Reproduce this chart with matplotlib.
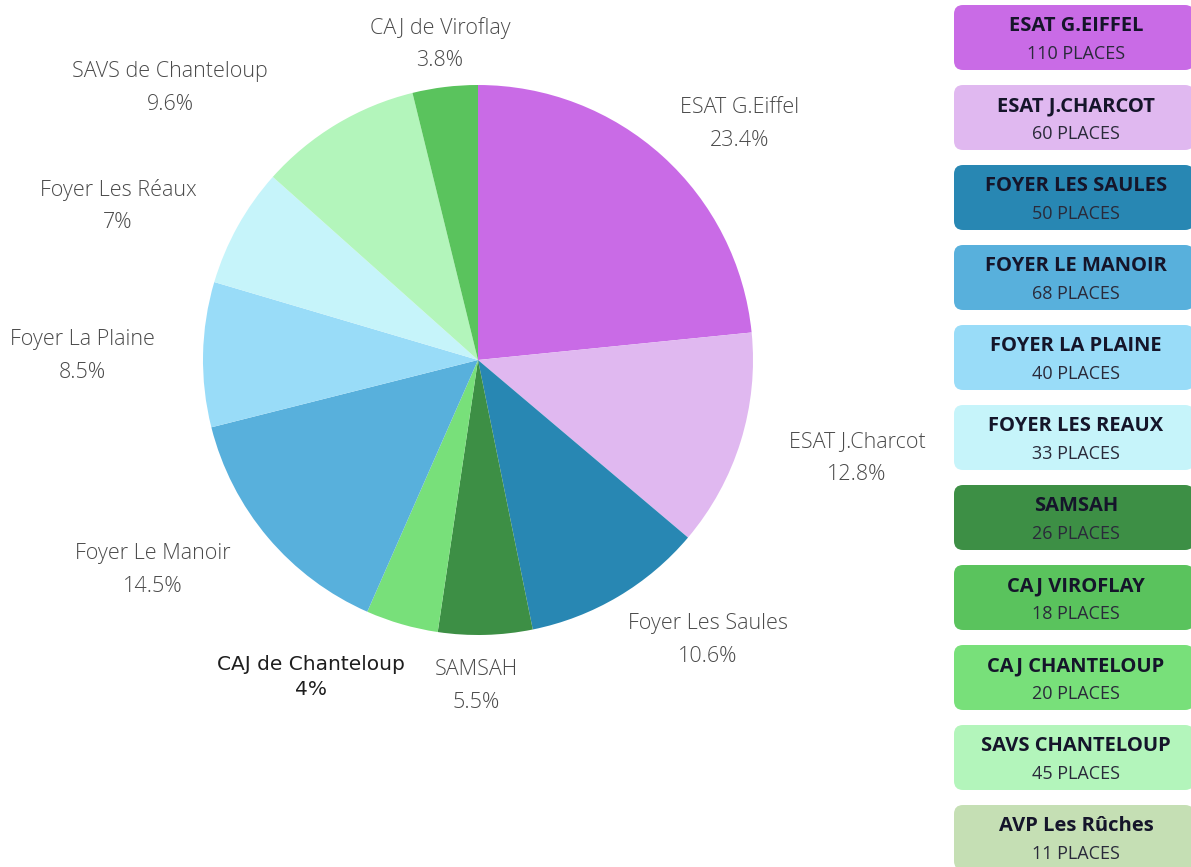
import matplotlib.pyplot as plt
from matplotlib.patches import FancyBboxPatch

# données du graphique
noms = ["ESAT G.Eiffel", "ESAT J.Charcot", "Foyer Les Saules", "SAMSAH",
        "CAJ de Chanteloup", "Foyer Le Manoir", "Foyer La Plaine",
        "Foyer Les Réaux", "SAVS de Chanteloup", "CAJ de Viroflay"]
places = [110, 60, 50, 26, 20, 68, 40, 33, 45, 18]
pourcentages = ["23.4%", "12.8%", "10.6%", "5.5%", "4%", "14.5%", "8.5%",
                "7%", "9.6%", "3.8%"]
couleurs = ["#c96be6", "#e0b8f0", "#2887b3", "#3d8f45", "#78e07a",
            "#58b0dc", "#99dcf8", "#c6f4fa", "#b3f5bb", "#5ac35d"]

# légende à droite (boîtes)
legende_titres = ["ESAT G.EIFFEL", "ESAT J.CHARCOT", "FOYER LES SAULES",
                  "FOYER LE MANOIR", "FOYER LA PLAINE", "FOYER LES REAUX",
                  "SAMSAH", "CAJ VIROFLAY", "CAJ CHANTELOUP",
                  "SAVS CHANTELOUP", "AVP Les Rûches"]
legende_places = [110, 60, 50, 68, 40, 33, 26, 18, 20, 45, 11]
legende_couleurs = ["#c96be6", "#e0b8f0", "#2887b3", "#58b0dc", "#99dcf8",
                    "#c6f4fa", "#3d8f45", "#5ac35d", "#78e07a", "#b3f5bb",
                    "#c5dfb4"]

W, H = 1191, 867
fig = plt.figure(figsize=(W / 100, H / 100), dpi=100)
ax = fig.add_axes([0, 0, 1, 1])

# camembert
ax.pie(places, colors=couleurs, startangle=90, counterclock=False,
       center=(478, H - 360), radius=275, frame=True,
       wedgeprops=dict(linewidth=0))
ax.set_xlim(0, W)
ax.set_ylim(0, H)
ax.set_aspect("equal")
ax.axis("off")

# position des étiquettes (mise en page, en pixels depuis le haut)
pos_etiquettes = [(740, 124), (857, 458), (708, 640), (476, 686),
                  (311, 677), (153, 570), (82, 356), (118, 206),
                  (170, 88), (440, 44)]
for nom, pct, (x, y) in zip(noms, pourcentages, pos_etiquettes):
    if nom == "CAJ de Chanteloup":
        ax.text(x, H - y, nom + "\n" + pct, ha="center", va="center",
                fontsize=14.5, color="#1e1e1e", family="DejaVu Sans",
                linespacing=1.4)
    else:
        ax.text(x, H - y, nom + "\n" + pct, ha="center", va="center",
                fontsize=15.5, color="#4a4a4a", family="Open Sans",
                weight="light", linespacing=1.7)

# boîtes de légende
x0, largeur, hauteur = 954, 240, 65
for i, (t, p, c) in enumerate(zip(legende_titres, legende_places,
                                  legende_couleurs)):
    haut = 5 + i * 80
    boite = FancyBboxPatch((x0, H - haut - hauteur), largeur, hauteur,
                           boxstyle="round,pad=0,rounding_size=9",
                           facecolor=c, edgecolor="none")
    ax.add_patch(boite)
    ax.text(1076, H - haut - 21, t, ha="center", va="center", fontsize=14.5,
            weight="bold", family="Open Sans", color="#15152a")
    ax.text(1076, H - haut - 49, f"{p} PLACES", ha="center", va="center",
            fontsize=13, family="Open Sans", color="#2a2a3a")

fig.savefig("out.png", dpi=100)
